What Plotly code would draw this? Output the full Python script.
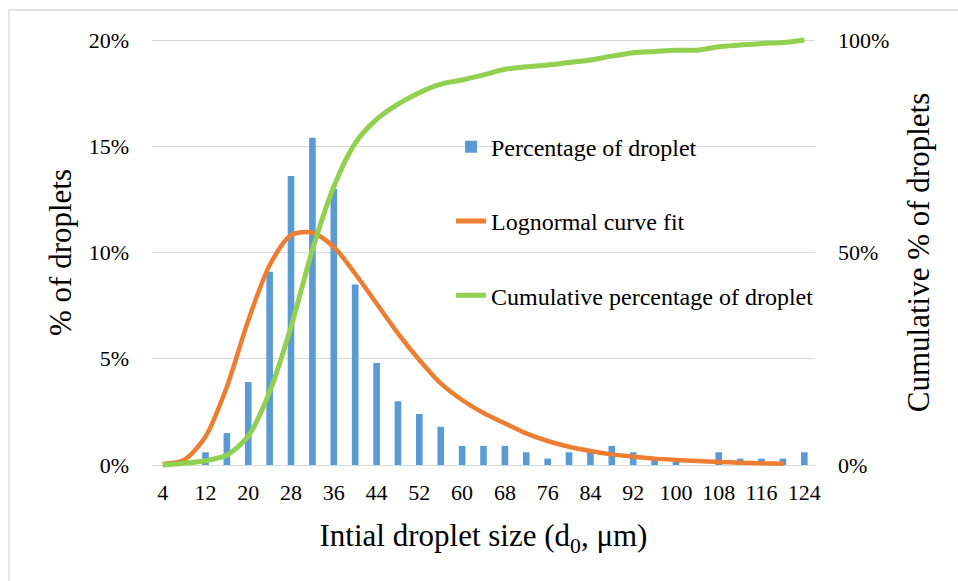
import plotly.graph_objects as go

# ---- data ----
sizes = [4, 8, 12, 16, 20, 24, 28, 32, 36, 40, 44, 48, 52, 56, 60, 64, 68, 72,
         76, 80, 84, 88, 92, 96, 100, 104, 108, 112, 116, 120, 124]
size_labels = [str(s) for s in sizes]

pct_droplet = [0.0, 0.0, 0.6, 1.5, 3.9, 9.1, 13.6, 15.4, 13.0, 8.5, 4.8, 3.0, 2.4,
               1.8, 0.9, 0.9, 0.9, 0.6, 0.3, 0.6, 0.6, 0.9, 0.6, 0.3, 0.15, 0.0,
               0.6, 0.3, 0.3, 0.3, 0.6]

lognormal_fit = [0.05, 0.24, 1.33, 3.68, 6.8, 9.4, 10.82, 10.93, 10.26, 9.0, 7.6,
                 6.19, 4.94, 3.84, 3.06, 2.45, 1.96, 1.49, 1.13, 0.86, 0.66, 0.5,
                 0.39, 0.3, 0.24, 0.19, 0.14, 0.11, 0.08, 0.06]  # 4 .. 120

cumulative = [0.0, 0.4, 1.0, 2.35, 6.8, 17.2, 32.5, 50.6, 65.5, 75.7, 81.3, 84.9,
              87.6, 89.6, 90.6, 91.8, 93.1, 93.7, 94.1, 94.7, 95.3, 96.2, 97.0,
              97.3, 97.6, 97.6, 98.4, 98.8, 99.2, 99.4, 100.0]

tick_labels = size_labels[::2]

left_ticks = [0, 0.05, 0.10, 0.15, 0.20]
right_ticks = [0, 0.5, 1.0]

FONT = "Liberation Serif, Times New Roman, serif"
BLUE = "#5B9BD5"
ORANGE = "#ED7D31"
GREEN = "#92D050"
GRID = "#D9D9D9"

fig = go.Figure()

fig.add_trace(go.Bar(
    x=size_labels, y=[v / 100 for v in pct_droplet],
    name="Percentage of droplet", marker=dict(color=BLUE, line=dict(width=0)),
    legendgroup="a", yaxis="y"))

fig.add_trace(go.Scatter(
    x=size_labels[:len(lognormal_fit)], y=[v / 100 for v in lognormal_fit],
    name="Lognormal curve fit", mode="lines",
    line=dict(color=ORANGE, width=4.5, shape="spline", smoothing=0.8),
    legendgroup="b", yaxis="y"))

fig.add_trace(go.Scatter(
    x=size_labels, y=[v / 100 for v in cumulative],
    name="Cumulative percentage of droplet", mode="lines",
    line=dict(color=GREEN, width=5, shape="spline", smoothing=0.8),
    legendgroup="c", yaxis="y2"))

pad_l = 0.2 * 4 / 425
pad_r = 1.0 * 4 / 425

fig.update_layout(
    width=958, height=581,
    margin=dict(l=152, r=143, t=36, b=112),
    paper_bgcolor="white", plot_bgcolor="white",
    font=dict(family=FONT, size=22, color="black"),
    bargap=0.69,
    showlegend=True,
    legend=dict(
        x=0.451, y=0.795, xanchor="left", yanchor="top",
        font=dict(family=FONT, size=24, color="black"),
        bgcolor="rgba(0,0,0,0)", traceorder="grouped", tracegroupgap=40,
        itemsizing="constant"),
    xaxis=dict(
        type="category", categoryorder="array", categoryarray=size_labels,
        range=[-0.5, len(size_labels) - 0.5],
        tickmode="array", tickvals=tick_labels, ticktext=tick_labels,
        showgrid=False, zeroline=False, showline=False, ticks="",
        ticklabelstandoff=8,
        tickfont=dict(family=FONT, size=22, color="black"),
        title=dict(text="Intial droplet size (d<sub>0</sub>, μm)",
                   font=dict(family=FONT, size=31, color="black"), standoff=20)),
    yaxis=dict(
        range=[-pad_l, 0.2 + pad_l], tickmode="array", tickvals=left_ticks,
        tickformat=".0%", showgrid=True, gridcolor=GRID, gridwidth=1.3,
        zeroline=False, showline=False, ticks="", ticklabelstandoff=22,
        tickfont=dict(family=FONT, size=22, color="black"),
        title=dict(text="% of droplets",
                   font=dict(family=FONT, size=31, color="black"), standoff=7)),
    yaxis2=dict(
        overlaying="y", side="right",
        range=[-pad_r, 1.0 + pad_r], tickmode="array", tickvals=right_ticks,
        tickformat=".0%", showgrid=False, zeroline=False, showline=False,
        ticks="", ticklabelstandoff=22,
        tickfont=dict(family=FONT, size=22, color="black"),
        title=dict(text="Cumulative % of droplets",
                   font=dict(family=FONT, size=31, color="black"), standoff=18)),
    shapes=[dict(type="rect", xref="paper", yref="paper",
                 x0=-0.2157, x1=1.3, y0=-0.35, y1=1.06,
                 line=dict(color=GRID, width=1.3), fillcolor="rgba(0,0,0,0)",
                 layer="below")],
)

fig.write_html("out.html",
               config={"displayModeBar": False},
               post_script="document.body.style.margin='0';"
                           "document.body.style.padding='0';")
